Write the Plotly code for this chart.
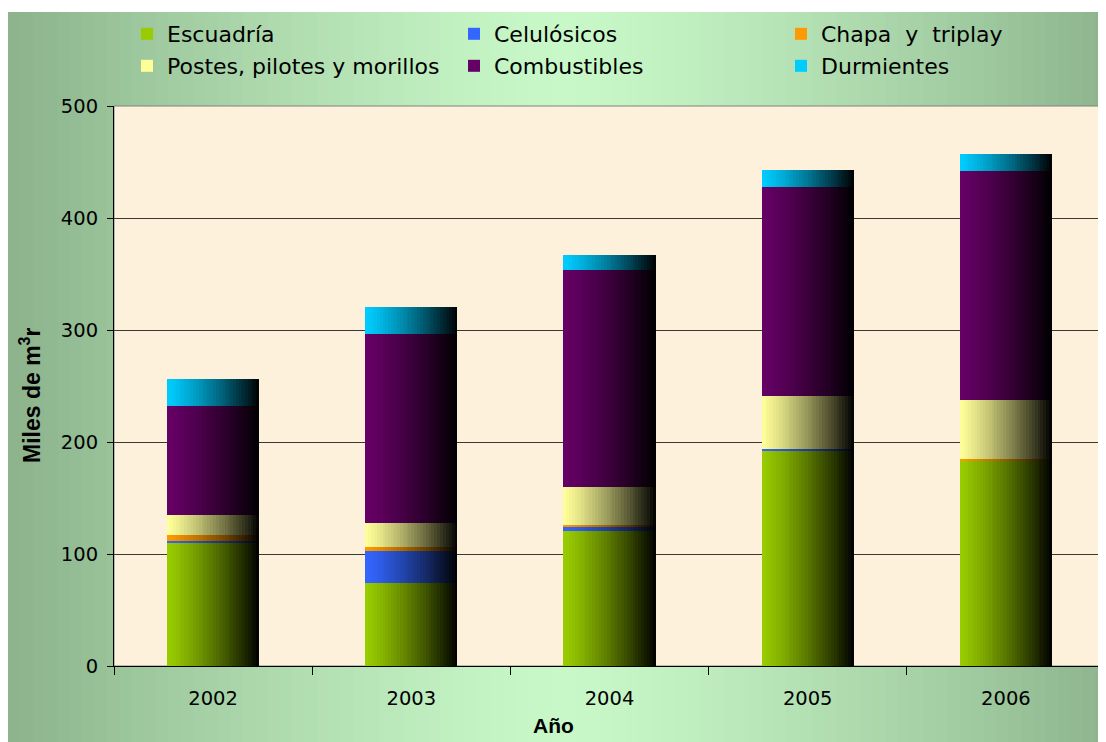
import numpy as np
import plotly.graph_objects as go

# ---------------- data ----------------
years = ["2002", "2003", "2004", "2005", "2006"]
series_names = ["Escuadría", "Celulósicos", "Chapa\u00a0\u00a0y\u00a0\u00a0triplay",
                "Postes, pilotes y\u00a0morillos", "Combustibles", "Durmientes"]
escuadria = [110.0, 74.0, 120.5, 192.0, 183.0]
celulosicos = [1.8, 28.5, 3.5, 1.8, 0.0]
chapa_triplay = [5.4, 3.5, 2.0, 0.3, 1.8]
postes = [17.8, 22.0, 34.0, 47.2, 52.7]
combustibles = [97.0, 168.5, 194.0, 186.7, 204.5]
durmientes = [24.0, 24.0, 13.4, 15.2, 15.0]
y_ticks = [0, 100, 200, 300, 400, 500]

# ---------------- styles ----------------
base_rgb = [(153, 204, 0), (51, 102, 255), (255, 153, 0),
            (255, 255, 153), (102, 0, 102), (0, 204, 255)]

OFF = 8  # page body margin (screen = figure + OFF)
W_FIG, H_FIG = 1106, 742
L, R, T, B = 114 - OFF, W_FIG - (1105 - OFF), 106 - OFF, H_FIG - (666 - OFF)
PW = W_FIG - L - R
PH = H_FIG - T - B


def px_x(sx):
    """screen x pixel -> paper fraction"""
    return (sx - OFF - L) / PW


def px_y(sy):
    """screen y pixel -> paper fraction"""
    return (H_FIG - B - (sy - OFF)) / PH


vals = np.array([escuadria, celulosicos, chapa_triplay, postes, combustibles, durmientes])
bases = np.cumsum(vals, axis=0) - vals

fig = go.Figure()

BW = 0.465
N = 32
x_all = [y for _ in range(len(series_names)) for y in years]
y_all = vals.flatten().tolist()
b_all = bases.flatten().tolist()
for k in range(N):
    t = (k + 0.5) / N
    f = 1 - t ** 1.25
    cols = []
    for s in range(len(series_names)):
        r, g, b = base_rgb[s]
        c = "rgb(%d,%d,%d)" % (round(r * f), round(g * f), round(b * f))
        cols += [c] * len(years)
    w = BW / N * (1.3 if k < N - 1 else 1.0)
    fig.add_trace(go.Bar(
        x=x_all, y=y_all, base=b_all,
        offset=-BW / 2 + k * BW / N, width=w,
        marker=dict(color=cols, line=dict(width=0)),
        showlegend=False, hoverinfo="skip",
    ))

for s, name in enumerate(series_names):
    fig.add_trace(go.Bar(
        x=[None], y=[None], name=name,
        marker=dict(color="rgb(%d,%d,%d)" % base_rgb[s], line=dict(width=0)),
        legend="legend" if s < 3 else "legend2",
    ))

# background gradient (chart area), in screen pixels
shapes = []
M = 90
x_start, x_end = 8, 1120
centre = 565
edge = np.array([141, 180, 141])
light = np.array([200, 248, 200])
for i in range(M):
    x0 = x_start + i * (x_end - x_start) / M
    x1 = x_start + (i + 1) * (x_end - x_start) / M + 0.8
    xc = (x0 + x1) / 2
    u = min(1.0, abs(xc - centre) / 545)
    c = light + (edge - light) * (u ** 1.3)
    shapes.append(dict(type="rect", xref="paper", yref="paper", layer="below",
                       x0=px_x(x0), x1=px_x(x1), y0=px_y(760), y1=px_y(12),
                       fillcolor="rgb(%d,%d,%d)" % tuple(np.round(c).astype(int)),
                       line=dict(width=0)))
shapes.append(dict(type="rect", xref="paper", yref="paper", layer="below",
                   x0=0, x1=1, y0=0, y1=1, fillcolor="rgb(253,241,220)",
                   line=dict(color="#808080", width=1)))

legend_common = dict(orientation="h", xanchor="left", yanchor="middle",
                     entrywidth=282, entrywidthmode="pixels",
                     bgcolor="rgba(0,0,0,0)", itemclick=False, itemdoubleclick=False,
                     font=dict(family="DejaVu Sans", size=22, color="black"),
                     traceorder="normal")

fig.update_layout(
    width=W_FIG, height=H_FIG,
    margin=dict(l=L, r=R, t=T, b=B, autoexpand=False),
    paper_bgcolor="white", plot_bgcolor="rgb(253,241,220)",
    barmode="overlay", bargap=0,
    shapes=shapes,
    legend=dict(x=px_x(127), y=px_y(34), **legend_common),
    legend2=dict(x=px_x(127), y=px_y(66), **legend_common),
    xaxis=dict(type="category", categoryorder="array", categoryarray=years,
               showline=True, linecolor="black", linewidth=1,
               ticks="outside", tickson="boundaries", ticklen=8, tickcolor="black",
               tickfont=dict(family="DejaVu Sans", size=19.5, color="black"),
               ticklabelstandoff=15, showgrid=False, zeroline=False),
    yaxis=dict(range=[0, 500], tickvals=y_ticks, showline=True, linecolor="black",
               linewidth=1, ticks="outside", ticklen=6, tickcolor="black",
               tickfont=dict(family="DejaVu Sans", size=19.5, color="black"),
               ticklabelstandoff=5,
               showgrid=True, gridcolor="#3a3a3a", gridwidth=1, zeroline=False),
    annotations=[
        dict(text="<b>Año</b>", xref="paper", yref="paper", x=px_x(553), y=px_y(725),
             showarrow=False, xanchor="center", yanchor="middle",
             font=dict(family="Liberation Sans", size=21, color="black")),
        dict(text="<b>Miles de m<sup>3</sup>r</b>", xref="paper", yref="paper",
             x=px_x(30), y=px_y(395), textangle=-90, showarrow=False,
             xanchor="center", yanchor="middle",
             font=dict(family="Liberation Sans", size=23, color="black")),
    ],
)

fig.write_html("out.html")
